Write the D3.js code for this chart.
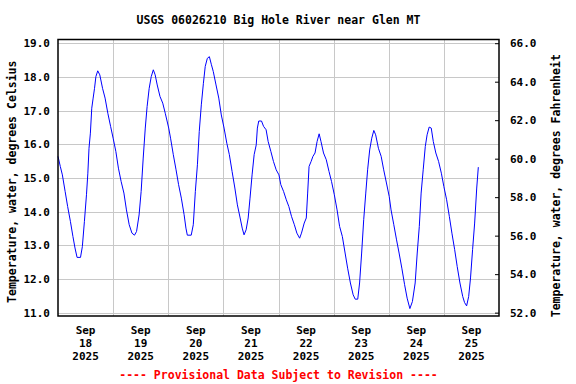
<!DOCTYPE html>
<html>
<head>
<meta charset="utf-8">
<script src="https://cdn.jsdelivr.net/npm/d3@7"></script>
<style>
  html, body { margin: 0; padding: 0; background: #fff; }
  svg { display: block; }
  text { font-family: "DejaVu Sans Mono", monospace; font-weight: bold; fill: #000; }
</style>
</head>
<body>
<svg id="chart" width="576" height="384"></svg>
<script>
const title = 'USGS 06026210 Big Hole River near Glen MT';
const leftLabel = 'Temperature, water, degrees Celsius';
const rightLabel = 'Temperature, water, degrees Fahrenheit';
const footer = '---- Provisional Data Subject to Revision ----';

const startDate = new Date(2025, 8, 18);
const endDate = new Date(2025, 8, 26);
const dayLabels = ['18', '19', '20', '21', '22', '23', '24', '25'];
const celsiusTicks = [11, 12, 13, 14, 15, 16, 17, 18, 19];
const fahrenheitTicks = [52, 54, 56, 58, 60, 62, 64, 66];

// [hours since Sep 18 00:00, water temperature °C]
const readings = [
  [0, 15.64], [1, 15.34], [1.9, 15.09], [3.1, 14.6], [4.2, 14.15], [5.4, 13.71],
  [6.5, 13.26], [7.4, 12.92], [8.3, 12.64], [9.8, 12.64], [10.6, 12.96], [11.5, 13.71],
  [12.4, 14.5], [13, 15.14], [13.5, 15.88], [14.1, 16.33], [14.7, 17.07], [15.3, 17.37],
  [15.9, 17.66], [16.5, 18.01], [17.3, 18.18], [18.2, 18.06], [19.4, 17.66], [20.5, 17.37],
  [21.7, 16.92], [22.9, 16.53], [24, 16.18], [25.2, 15.78], [26.3, 15.29], [27.5, 14.89],
  [28.7, 14.55], [29.8, 14.05], [31, 13.61], [32.2, 13.36], [33.3, 13.3], [34.2, 13.41],
  [35.3, 13.9], [36.2, 14.6], [37.1, 15.59], [38, 16.48], [38.8, 17.12], [39.7, 17.66],
  [40.6, 18.01], [41.5, 18.21], [42.3, 18.06], [43.2, 17.76], [44.4, 17.42], [45.6, 17.22],
  [46.7, 16.92], [48.2, 16.48], [49, 16.18], [50.2, 15.69], [51.4, 15.24], [52.5, 14.8],
  [53.7, 14.4], [54.9, 13.91], [55.7, 13.51], [56.3, 13.3], [58, 13.3], [58.9, 13.61],
  [59.8, 14.6], [60.7, 15.39], [61.5, 16.38], [62.4, 17.17], [63.3, 17.81], [64.1, 18.31],
  [65, 18.55], [65.9, 18.6], [66.8, 18.36], [67.6, 18.16], [68.8, 17.76], [70, 17.37],
  [71.1, 16.87], [72.3, 16.48], [73.5, 16.03], [74.6, 15.69], [75.8, 15.19], [77, 14.7],
  [78.1, 14.2], [79.3, 13.81], [80.2, 13.51], [81, 13.31], [81.9, 13.46], [82.8, 13.81],
  [83.6, 14.4], [84.5, 15.09], [85.4, 15.69], [86.3, 15.98], [86.8, 16.48], [87.4, 16.69],
  [88.6, 16.69], [89.5, 16.53], [90.6, 16.43], [91.5, 16.08], [92.7, 15.78], [93.8, 15.49],
  [95, 15.24], [96.2, 15.09], [97, 14.8], [98.2, 14.6], [99.4, 14.35], [100.5, 14.15],
  [101.7, 13.85], [102.9, 13.61], [104, 13.36], [105.2, 13.21], [106, 13.36], [107.2, 13.66],
  [108.1, 13.81], [108.7, 14.55], [109.3, 15.34], [110.2, 15.49], [111, 15.64], [111.9, 15.74],
  [112.8, 16.08], [113.7, 16.31], [114.5, 16.08], [115.6, 15.74], [116.8, 15.54], [118, 15.19],
  [119.1, 14.89], [120.3, 14.5], [121.5, 14.05], [122.6, 13.56], [123.8, 13.26], [125, 12.77],
  [126.1, 12.32], [127.3, 11.88], [128.5, 11.53], [129.4, 11.4], [130.5, 11.4], [131.3, 11.88],
  [132.2, 12.77], [133.1, 13.76], [134, 14.55], [134.8, 15.24], [135.7, 15.83], [136.6, 16.18],
  [137.5, 16.41], [138.3, 16.28], [139.5, 15.88], [140.7, 15.64], [141.8, 15.24], [143, 14.85],
  [144.2, 14.45], [145, 14.05], [146.2, 13.61], [147.4, 13.16], [148.5, 12.77], [149.7, 12.32],
  [150.9, 11.83], [152, 11.43], [153.2, 11.12], [154.3, 11.33], [155.5, 11.88], [156.4, 12.77],
  [157.3, 13.56], [158.1, 14.55], [159, 15.24], [159.9, 15.93], [160.7, 16.28], [161.6, 16.51],
  [162.5, 16.48], [163.4, 16.08], [164.5, 15.74], [165.7, 15.49], [166.9, 15.14], [168, 14.74],
  [169.2, 14.35], [170.4, 13.85], [171.5, 13.36], [172.7, 12.87], [173.8, 12.37], [175, 11.88],
  [176.2, 11.48], [177, 11.3], [177.9, 11.2], [178.8, 11.48], [179.6, 12.03], [180.5, 12.87],
  [181.4, 13.66], [182.3, 14.7], [183, 15.32]
];

const svg = d3.select('#chart');
const plot = { left: 58, right: 499, top: 39.5, bottom: 316 };

const x = d3.scaleTime().domain([startDate, endDate]).range([plot.left, plot.right]);
const y = d3.scaleLinear().domain([10.9, 19.11]).range([plot.bottom, plot.top]);
const yF = d3.scaleLinear().domain([52, 66]).range([y(11), y(19)]);

const days = d3.timeDay.range(startDate, endDate);

// grid
const grid = svg.append('g').attr('stroke', '#c8c8c8').attr('stroke-width', 1);
grid.selectAll('line.h')
  .data(celsiusTicks)
  .join('line')
  .attr('class', 'h')
  .attr('x1', plot.left).attr('x2', plot.right)
  .attr('y1', d => Math.round(y(d)) + 0.5).attr('y2', d => Math.round(y(d)) + 0.5);
grid.selectAll('line.v')
  .data(days.slice(1))
  .join('line')
  .attr('class', 'v')
  .attr('x1', d => Math.round(x(d)) + 0.5).attr('x2', d => Math.round(x(d)) + 0.5)
  .attr('y1', plot.top).attr('y2', plot.bottom);

// data line
const line = d3.line()
  .x(d => x(d3.timeMinute.offset(startDate, Math.round(d[0] * 60))))
  .y(d => y(d[1]));

svg.append('path')
  .datum(readings)
  .attr('fill', 'none')
  .attr('stroke', '#0000ff')
  .attr('stroke-width', 1)
  .attr('d', line);

// frame
svg.append('rect')
  .attr('x', plot.left).attr('y', plot.top)
  .attr('width', plot.right - plot.left).attr('height', plot.bottom - plot.top)
  .attr('fill', 'none').attr('stroke', '#000').attr('stroke-width', 1.5);

// left axis
const leftAxis = svg.append('g')
  .attr('transform', `translate(${plot.left},0)`)
  .call(d3.axisLeft(y).tickValues(celsiusTicks).tickFormat(d3.format('.1f')).tickSize(0).tickPadding(8));
leftAxis.select('.domain').remove();
leftAxis.selectAll('text').attr('font-size', 11).attr('font-family', null).attr('fill', '#000');

// right axis
const rightAxis = svg.append('g')
  .attr('transform', `translate(${plot.right},0)`)
  .call(d3.axisRight(yF).tickValues(fahrenheitTicks).tickFormat(d3.format('.1f')).tickSize(-4).tickPadding(11));
rightAxis.select('.domain').remove();
rightAxis.selectAll('line').attr('stroke', '#000');
rightAxis.selectAll('text').attr('font-size', 11).attr('font-family', null).attr('fill', '#000');

// bottom date labels at noon
const labels = svg.append('g');
days.forEach((d, i) => {
  const cx = x(d3.timeHour.offset(d, 12));
  const t = labels.append('text').attr('text-anchor', 'middle').attr('font-size', 11);
  ['Sep', dayLabels[i], '2025'].forEach((s, j) => {
    t.append('tspan').attr('x', cx).attr('y', 334 + j * 13).text(s);
  });
});

// titles
svg.append('text')
  .attr('x', (plot.left + plot.right) / 2).attr('y', 24)
  .attr('text-anchor', 'middle').attr('font-size', 11.5)
  .text(title);

svg.append('text')
  .attr('transform', `translate(16,${(plot.top + plot.bottom) / 2 + 4}) rotate(-90)`)
  .attr('text-anchor', 'middle').attr('font-size', 11.5)
  .text(leftLabel);

svg.append('text')
  .attr('transform', `translate(560,${(plot.top + plot.bottom) / 2 + 8}) rotate(-90)`)
  .attr('text-anchor', 'middle').attr('font-size', 11.5)
  .text(rightLabel);

svg.append('text')
  .attr('x', (plot.left + plot.right) / 2).attr('y', 379)
  .attr('text-anchor', 'middle').attr('font-size', 11.5)
  .style('fill', '#ff0000')
  .text(footer);
</script>
</body>
</html>
